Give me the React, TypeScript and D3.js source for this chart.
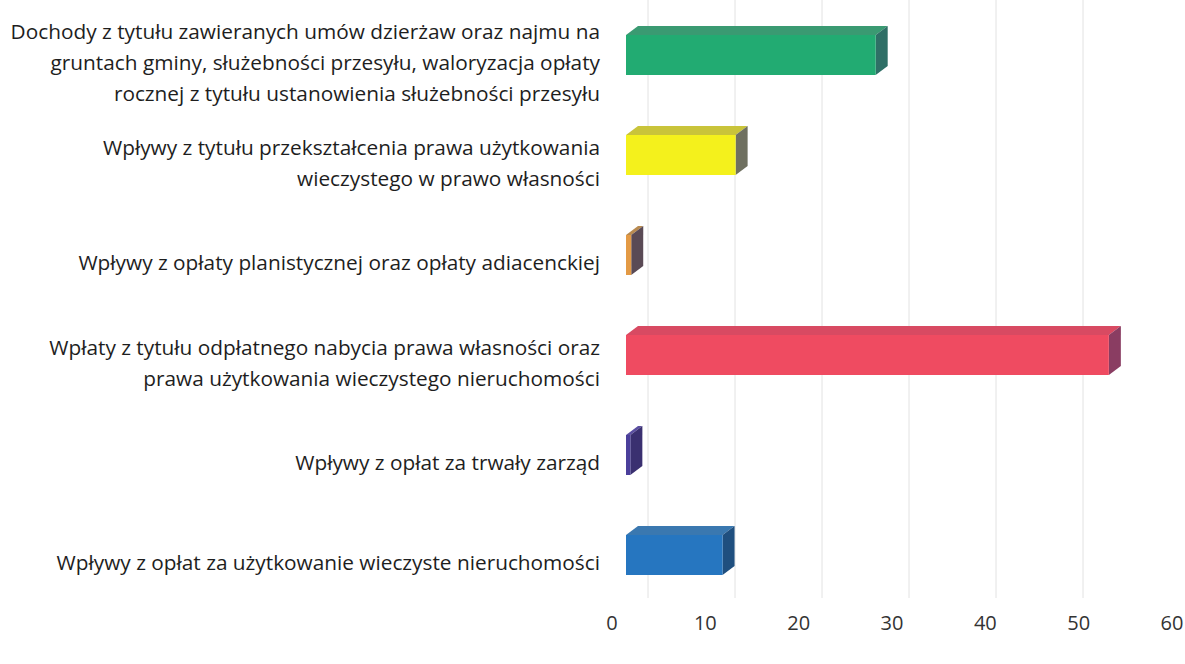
import React from "react";
import * as d3 from "d3";

const categories: string[][] = [
  ["Dochody z tytułu zawieranych umów dzierżaw oraz najmu na", "gruntach gminy, służebności przesyłu, waloryzacja opłaty", "rocznej z tytułu ustanowienia służebności przesyłu"],
  ["Wpływy z tytułu przekształcenia prawa użytkowania", "wieczystego w prawo własności"],
  ["Wpływy z opłaty planistycznej oraz opłaty adiacenckiej"],
  ["Wpłaty z tytułu odpłatnego nabycia prawa własności oraz", "prawa użytkowania wieczystego nieruchomości"],
  ["Wpływy z opłat za trwały zarząd"],
  ["Wpływy z opłat za użytkowanie wieczyste nieruchomości"],
];
const values: number[] = [28.7, 12.6, 0.6, 55.5, 0.5, 11.1];
const frontColors: string[] = ["#22ab72", "#f4f11c", "#e39a45", "#ef4b61", "#4b3f9b", "#2676c0"];
const topColors: string[] = ["#3a9a72", "#c9c43a", "#b88a50", "#d84a62", "#5a4fa0", "#3a78b0"];
const sideColors: string[] = ["#2f6f66", "#6f7060", "#5a4a55", "#8a3d62", "#3a3070", "#1f4f7f"];
const ticks: number[] = [0, 10, 20, 30, 40, 50, 60];

export default function App() {
  const W = 1185, H = 664;
  const x = d3.scaleLinear().domain([0, 60]).range([626, 1148]);
  const ids = categories.map((_, i) => String(i));
  const y = d3.scaleBand().domain(ids).range([5, 605]).paddingInner(0.6).paddingOuter(0.3);
  const dx = 12, dy = 9;
  const gdx = 22;
  const lineH = 31;
  return (
    <svg width={W} height={H} style={{ position: "absolute", left: 0, top: 0, background: "#fff" }}>
      {ticks.slice(0, 6).map((t) => (
        <line key={"g" + t} x1={x(t) + gdx} x2={x(t) + gdx} y1={0} y2={598} stroke="#e2e2e2" strokeWidth={1} />
      ))}
      {values.map((v, i) => {
        const y0 = y(String(i))!;
        const h = y.bandwidth();
        const x0 = x(0), x1 = x(v);
        return (
          <g key={"b" + i}>
            <polygon points={`${x0},${y0} ${x0 + dx},${y0 - dy} ${x1 + dx},${y0 - dy} ${x1},${y0}`} fill={topColors[i]} />
            <polygon points={`${x1},${y0} ${x1 + dx},${y0 - dy} ${x1 + dx},${y0 + h - dy} ${x1},${y0 + h}`} fill={sideColors[i]} />
            <rect x={x0} y={y0} width={x1 - x0} height={h} fill={frontColors[i]} />
          </g>
        );
      })}
      {categories.map((lines, i) => {
        const cy = y(String(i))! + y.bandwidth() / 2 + 7;
        const startY = cy - ((lines.length - 1) * lineH) / 2;
        return (
          <text key={"l" + i} textAnchor="end" fontFamily="'Open Sans', sans-serif" fontSize={20.8} fill="#1e1e1e" dominantBaseline="central">
            {lines.map((ln, j) => (
              <tspan key={j} x={600} y={startY + j * lineH}>{ln}</tspan>
            ))}
          </text>
        );
      })}
      {ticks.map((t) => (
        <text key={"t" + t} x={x(t) - 14 + (t * 38) / 60} y={630} textAnchor="middle" fontFamily="'Open Sans', sans-serif" fontSize={20} fill="#333">{t}</text>
      ))}
    </svg>
  );
}
